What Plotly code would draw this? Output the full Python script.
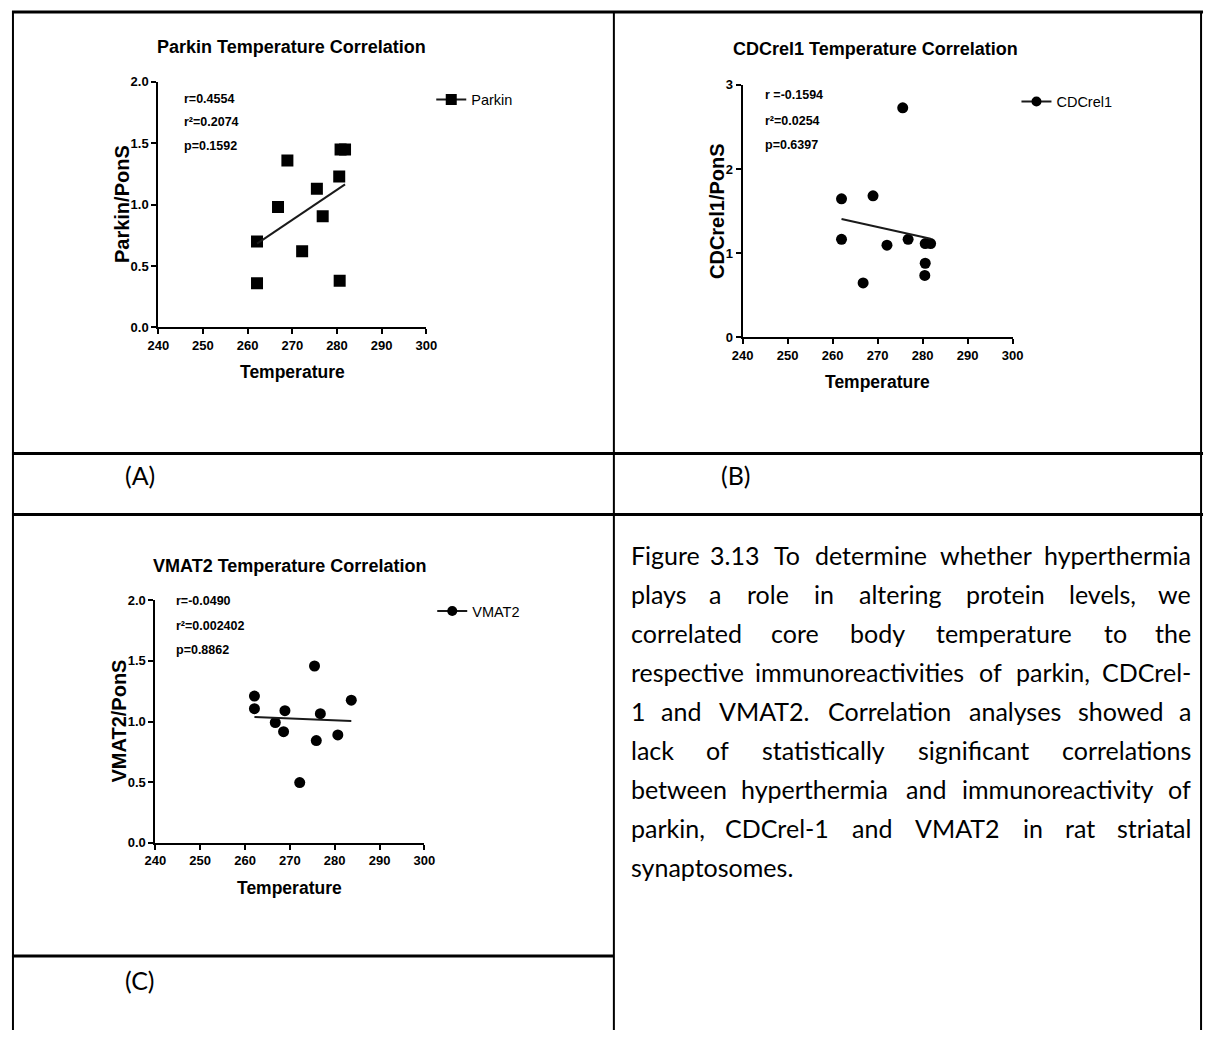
import numpy as np
import plotly.graph_objects as go

# ---------------- data ----------------
temperature_parkin = [262.1, 262.1, 266.8, 268.9, 272.2, 275.5, 276.8, 280.5, 280.6, 280.8, 281.8]
parkin_pons = [0.70, 0.36, 0.98, 1.36, 0.62, 1.13, 0.905, 1.23, 0.38, 1.45, 1.45]

temperature_cdcrel1 = [262.0, 262.0, 266.8, 269.0, 272.1, 275.6, 276.8, 280.6, 280.6, 280.5, 281.8]
cdcrel1_pons = [1.645, 1.164, 0.645, 1.68, 1.094, 2.727, 1.164, 1.113, 0.879, 0.734, 1.113]

temperature_vmat2 = [262.1, 262.1, 266.75, 268.6, 268.9, 272.2, 275.5, 275.9, 276.8, 280.7, 283.7]
vmat2_pons = [1.21, 1.106, 0.992, 0.916, 1.089, 0.496, 1.458, 0.843, 1.065, 0.889, 1.176]

series_names = ["Parkin", "CDCrel1", "VMAT2"]
chart_titles = ["Parkin Temperature Correlation", "CDCrel1 Temperature Correlation",
                "VMAT2 Temperature Correlation"]
y_titles = ["Parkin/PonS", "CDCrel1/PonS", "VMAT2/PonS"]
x_title = "Temperature"
stats_parkin = ["r=0.4554", "r²=0.2074", "p=0.1592"]
stats_cdcrel1 = ["r =-0.1594", "r²=0.0254", "p=0.6397"]
stats_vmat2 = ["r=-0.0490", "r²=0.002402", "p=0.8862"]
panel_labels = ["(A)", "(B)", "(C)"]
caption_lines = [
    "Figure 3.13 To determine whether hyperthermia",
    "plays a role in altering protein levels, we",
    "correlated core body temperature to the",
    "respective immunoreactivities of parkin, CDCrel-",
    "1 and VMAT2. Correlation analyses showed a",
    "lack of statistically significant correlations",
    "between hyperthermia and immunoreactivity of",
    "parkin, CDCrel-1 and VMAT2 in rat striatal",
    "synaptosomes.",
]

# ---------------- helpers ----------------
W, H = 1215, 1038


def px(x):
    return x / W


def py(y):
    return 1 - y / H


BOLDF = "'Liberation Sans', Arial, sans-serif"
BODY = "Lato, Carlito, Calibri, sans-serif"

panels = [
    dict(x=temperature_parkin, y=parkin_pons, stats=stats_parkin, symbol="square", msize=12,
         xdom=(150, 423), ydom=(76, 325), yrange=[0, 2], dtick=0.5, fmt=".1f",
         title_xy=(286, 41), ytitle_xy=(113, 200), xtitle_y=370,
         stats_x=174, stats_y=[93, 117, 141], legend_xy=(449, 94)),
    dict(x=temperature_cdcrel1, y=cdcrel1_pons, stats=stats_cdcrel1, symbol="circle", msize=11,
         xdom=(745, 1020), ydom=(79, 335), yrange=[0, 3], dtick=1, fmt="d",
         title_xy=(880, 43), ytitle_xy=(719, 207), xtitle_y=380,
         stats_x=766, stats_y=[89, 116, 140], legend_xy=(1045, 96)),
    dict(x=temperature_vmat2, y=vmat2_pons, stats=stats_vmat2, symbol="circle", msize=11,
         xdom=(147, 421), ydom=(602, 848), yrange=[0, 2], dtick=0.5, fmt=".1f",
         title_xy=(284, 567), ytitle_xy=(110, 725), xtitle_y=894,
         stats_x=166, stats_y=[603, 628, 652], legend_xy=(450, 613)),
]

fig = go.Figure()
annotations = []
shapes = []
layout_axes = {}

for i, p in enumerate(panels):
    n = i + 1
    xa = "x" if n == 1 else f"x{n}"
    ya = "y" if n == 1 else f"y{n}"
    leg = "legend" if n == 1 else f"legend{n}"
    xs = np.array(p["x"], dtype=float)
    ys = np.array(p["y"], dtype=float)

    # points
    fig.add_trace(go.Scatter(x=xs, y=ys, mode="markers", xaxis=xa, yaxis=ya, showlegend=False,
                             marker=dict(symbol=p["symbol"], size=p["msize"], color="black")))
    # regression line fitted to the data (also carries the legend entry; its end markers
    # are hidden on the plot through the unselected style)
    slope, intercept = np.polyfit(xs, ys, 1)
    fx = np.array([xs.min(), xs.max()])
    fig.add_trace(go.Scatter(x=fx, y=slope * fx + intercept, mode="lines+markers", xaxis=xa,
                             yaxis=ya, name=series_names[i], legend=leg, showlegend=True,
                             marker=dict(symbol=p["symbol"], size=p["msize"] - 1, color="black"),
                             selectedpoints=[], unselected=dict(marker=dict(opacity=0)),
                             line=dict(color="#1a1a1a", width=2)))

    axis_common = dict(showline=True, linecolor="black", linewidth=2, ticks="outside", ticklen=5,
                       tickwidth=2, tickcolor="black", showgrid=False, zeroline=False,
                       tickfont=dict(family=BOLDF, size=13, color="black", weight="bold"),
                       fixedrange=True)
    layout_axes["xaxis" if n == 1 else f"xaxis{n}"] = dict(
        domain=[px(p["xdom"][0]), px(p["xdom"][1])], anchor=ya, range=[240, 300],
        tick0=240, dtick=10, **axis_common)
    layout_axes["yaxis" if n == 1 else f"yaxis{n}"] = dict(
        domain=[py(p["ydom"][1]), py(p["ydom"][0])], anchor=xa, range=p["yrange"],
        tick0=0, dtick=p["dtick"], tickformat=p["fmt"], **axis_common)

    layout_axes[leg] = dict(x=px(p["legend_xy"][0] - 21), y=py(p["legend_xy"][1]),
                            xanchor="left", yanchor="middle", bgcolor="rgba(0,0,0,0)",
                            borderwidth=0,
                            font=dict(family=BOLDF, size=14.5, color="black"))

    # chart title
    annotations.append(dict(text=f"<b>{chart_titles[i]}</b>", x=px(p["title_xy"][0]),
                            y=py(p["title_xy"][1]), xref="paper", yref="paper", showarrow=False,
                            xanchor="center", yanchor="middle",
                            font=dict(family=BOLDF, size=18, color="black")))
    # axis titles
    annotations.append(dict(text=f"<b>{y_titles[i]}</b>", x=px(p["ytitle_xy"][0]),
                            y=py(p["ytitle_xy"][1]), xref="paper", yref="paper", showarrow=False,
                            textangle=-90, xanchor="center", yanchor="middle",
                            font=dict(family=BOLDF, size=20, color="black")))
    annotations.append(dict(text=f"<b>{x_title}</b>", x=px((p["xdom"][0] + p["xdom"][1]) / 2),
                            y=py(p["xtitle_y"]), xref="paper", yref="paper", showarrow=False,
                            xanchor="center", yanchor="middle",
                            font=dict(family=BOLDF, size=17.5, color="black")))
    # statistics
    for s, yy in zip(p["stats"], p["stats_y"]):
        annotations.append(dict(text=f"<b>{s}</b>", x=px(p["stats_x"]), y=py(yy), xref="paper",
                                yref="paper", showarrow=False, xanchor="left", yanchor="middle",
                                font=dict(family=BOLDF, size=12.5, color="black")))

# panel labels
for lab, (lx, ly) in zip(panel_labels, [(131, 475), (738, 475), (131, 987)]):
    annotations.append(dict(text=lab, x=px(lx), y=py(ly), xref="paper", yref="paper",
                            showarrow=False, xanchor="center", yanchor="middle",
                            font=dict(family=BODY, size=25, color="black")))

# justified caption (approximate Lato advance widths, em)
LATO = {' ': .19, 'a': .51, 'b': .56, 'c': .46, 'd': .56, 'e': .52, 'f': .33, 'g': .50,
        'h': .56, 'i': .23, 'j': .23, 'k': .50, 'l': .23, 'm': .85, 'n': .56, 'o': .56,
        'p': .56, 'q': .56, 'r': .37, 's': .42, 't': .35, 'u': .56, 'v': .50, 'w': .76,
        'x': .49, 'y': .49, 'z': .44, 'A': .68, 'C': .66, 'D': .73, 'F': .53, 'M': .88,
        'R': .62, 'T': .58, 'V': .68, '.': .22, ',': .22, '-': .35}
FS = 25
SCALE = FS * 1.027


def wwidth(s):
    return sum(LATO.get(c, .58) for c in s) * SCALE


left_edge, right_edge = 629, 1204
for li, line in enumerate(caption_lines):
    yy = 556 + 39.6 * li
    words = line.split(" ")
    if li == len(caption_lines) - 1 or len(words) == 1:
        annotations.append(dict(text=line, x=px(left_edge), y=py(yy), xref="paper", yref="paper",
                                showarrow=False, xanchor="left", yanchor="middle",
                                font=dict(family=BODY, size=FS, color="black")))
        continue
    widths = [wwidth(w) for w in words]
    gap = (right_edge - left_edge - sum(widths)) / (len(words) - 1)
    cur = left_edge
    for wi, (w, wd) in enumerate(zip(words, widths)):
        if wi == 0:
            xx, anc = cur, "left"
        elif wi == len(words) - 1:
            xx, anc = right_edge, "right"
        else:
            xx, anc = cur + wd / 2, "center"
        annotations.append(dict(text=w, x=px(xx), y=py(yy), xref="paper", yref="paper",
                                showarrow=False, xanchor=anc, yanchor="middle",
                                font=dict(family=BODY, size=FS, color="black")))
        cur += wd + gap


# table borders
def hline(x0, x1, y, w=3):
    shapes.append(dict(type="line", xref="paper", yref="paper", x0=px(x0), x1=px(x1),
                       y0=py(y), y1=py(y), line=dict(color="black", width=w)))


def vline(x, y0, y1, w=2):
    shapes.append(dict(type="line", xref="paper", yref="paper", x0=px(x), x1=px(x),
                       y0=py(y0), y1=py(y1), line=dict(color="black", width=w)))


hline(1, 1214, 5)
hline(1, 1214, 453)
hline(1, 1214, 515)
hline(1, 614, 963)
vline(2, 4, 1038)
vline(614, 4, 1038)
vline(1212, 4, 1038)

fig.update_layout(width=W, height=H, margin=dict(l=0, r=0, t=0, b=0),
                  paper_bgcolor="white", plot_bgcolor="white",
                  annotations=annotations, shapes=shapes, **layout_axes)

fig.write_html("out.html", config={"displayModeBar": False},
               post_script="document.body.style.margin='0';document.body.style.overflow='hidden';")
